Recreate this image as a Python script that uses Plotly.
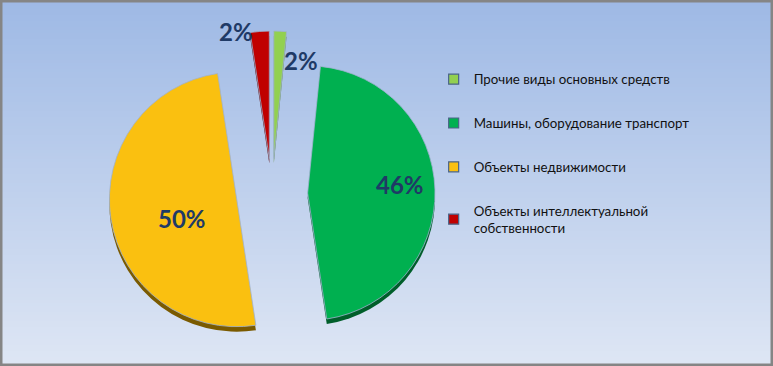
import plotly.graph_objects as go

# ---- data ----
categories = ["Прочие виды основных средств",
              "Машины, оборудование транспорт",
              "Объекты недвижимости",
              "Объекты интеллектуальной собственности"]
legend_labels = ["Прочие виды основных средств",
                 "Машины, оборудование транспорт",
                 "Объекты недвижимости",
                 "Объекты интеллектуальной<br>собственности"]
values = [1.6, 46.0, 50.0, 2.4]

# ---- styles ----
colors = ["#92D050", "#00B050", "#FAC010", "#C00000"]
dark_colors = ["#5E8A2E", "#005E2A", "#7A5A00", "#5E0000"]
label_color = "#1F3A66"
W, H = 773, 366

# pie placement (pixels)
cx, cy, half = 272, 194, 163
dom_x = [(cx - half) / W, (cx + half) / W]
dom_y = [1 - (cy + half) / H, 1 - (cy - half) / H]
depth = 5 / H

# label anchor positions (pixels) for each slice's percentage
label_pos = [(301, 61), (400, 184), (182, 218), (236, 32)]

fig = go.Figure()

# depth (3D side) layer
fig.add_trace(go.Pie(
    labels=categories, values=values, sort=False, direction="clockwise",
    rotation=0, pull=0.28, marker=dict(colors=dark_colors, line=dict(width=0)),
    textinfo="none", hoverinfo="skip", showlegend=False,
    domain=dict(x=dom_x, y=[dom_y[0] - depth, dom_y[1] - depth]),
))

fig.add_trace(go.Pie(
    labels=categories, values=values, sort=False, direction="clockwise",
    rotation=0, pull=0.28,
    marker=dict(colors=colors, line=dict(width=0.8, color="#9FB3D1")),
    textinfo="none", showlegend=False, domain=dict(x=dom_x, y=dom_y),
))

# percentage labels
total = sum(values)
annotations = []
for v, (px, py) in zip(values, label_pos):
    annotations.append(dict(
        text="%d%%" % round(v / total * 100), xref="paper", yref="paper",
        x=px / W, y=1 - py / H, xanchor="center", yanchor="middle",
        showarrow=False,
        font=dict(family="Lato", size=24, color=label_color, weight="bold")))

# legend entries
for name, col in zip(legend_labels, colors):
    fig.add_trace(go.Scatter(
        x=[None], y=[None], mode="markers", name=name, legendgroup=name,
        marker=dict(symbol="square", size=10, color=col,
                    line=dict(width=1.2, color="#4A6488")),
    ))

# gradient background
top = (158, 185, 229)
bot = (222, 230, 244)
n = 122
shapes = []
for i in range(n):
    t = i / (n - 1)
    c = tuple(round(top[k] + (bot[k] - top[k]) * t) for k in range(3))
    shapes.append(dict(type="rect", xref="paper", yref="paper", layer="below",
                       x0=0, x1=1, y0=1 - (i + 1) / n, y1=1 - i / n,
                       fillcolor="rgb(%d,%d,%d)" % c, line=dict(width=0)))
shapes.append(dict(type="rect", xref="paper", yref="paper", layer="above",
                   x0=0, x1=1, y0=0, y1=1, fillcolor="rgba(0,0,0,0)",
                   line=dict(width=5, color="#858585")))

fig.update_layout(
    width=W, height=H,
    margin=dict(l=0, r=0, t=0, b=0, autoexpand=False),
    paper_bgcolor="#DEE6F4", plot_bgcolor="rgba(0,0,0,0)",
    xaxis=dict(visible=False), yaxis=dict(visible=False),
    shapes=shapes, annotations=annotations,
    legend=dict(x=0.561, y=0.825, xanchor="left", yanchor="top",
                bgcolor="rgba(0,0,0,0)", tracegroupgap=23.5,
                font=dict(family="Lato", size=13.3, color="#111111")),
)

fig.write_html("out.html", config={"displayModeBar": False},
               post_script="document.body.style.margin='0';"
                           "document.body.style.overflow='hidden';")
